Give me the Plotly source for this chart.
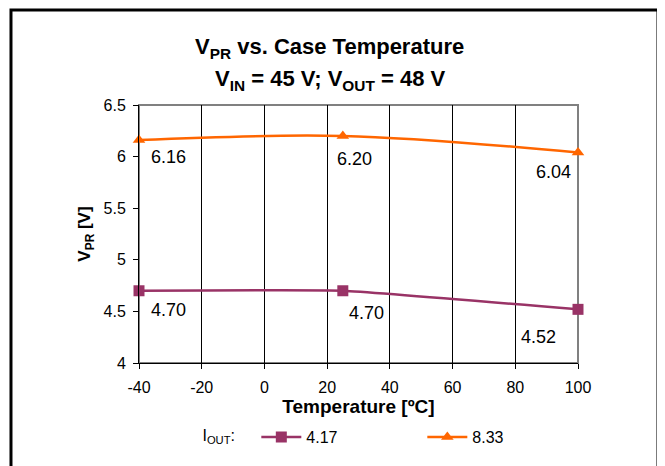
import plotly.graph_objects as go

temps = [-40, 25, 100]
vpr_417 = [4.70, 4.70, 4.52]
vpr_833 = [6.16, 6.20, 6.04]
series_names = ["4.17", "8.33"]
x_ticks = [-40, -20, 0, 20, 40, 60, 80, 100]
y_ticks = [4, 4.5, 5, 5.5, 6, 6.5]
y_tick_text = ["4", "4.5", "5", "5.5", "6", "6.5"]

FONT = "Arial, Liberation Sans, sans-serif"
PURPLE = "#993366"
ORANGE = "#FF6600"

fig = go.Figure()
fig.add_trace(go.Scatter(
    x=temps, y=vpr_417, name=series_names[0], mode="lines+markers",
    line=dict(color=PURPLE, width=2.5, shape="spline", smoothing=0.3),
    marker=dict(symbol="square", size=11, color=PURPLE), cliponaxis=False))
fig.add_trace(go.Scatter(
    x=temps, y=vpr_833, name=series_names[1], mode="lines+markers",
    line=dict(color=ORANGE, width=2.5, shape="spline", smoothing=1),
    marker=dict(symbol="triangle-up", size=11, color=ORANGE), cliponaxis=False))

# value labels (offsets in px from each point)
shifts_417 = [(29, -19), (24, -22), (-40, -28)]
shifts_833 = [(29, -17), (12, -23), (-25, -20)]
annotations = []
for ys, shifts in ((vpr_417, shifts_417), (vpr_833, shifts_833)):
    for xv, yv, (dx, dy) in zip(temps, ys, shifts):
        annotations.append(dict(x=xv, y=yv, xref="x", yref="y", text=f"{yv:.2f}",
                                showarrow=False, xshift=dx, yshift=dy,
                                xanchor="center", yanchor="middle",
                                font=dict(family=FONT, size=18, color="black")))

annotations.append(dict(x=0.435, y=1.222, xref="paper", yref="paper",
                        text="<b>V<sub>PR</sub> vs. Case Temperature</b>", showarrow=False,
                        xanchor="center", yanchor="middle",
                        font=dict(family=FONT, size=22, color="black")))
annotations.append(dict(x=0.435, y=1.097, xref="paper", yref="paper",
                        text="<b>V<sub>IN</sub> = 45 V; V<sub>OUT</sub> = 48 V</b>", showarrow=False,
                        xanchor="center", yanchor="middle",
                        font=dict(family=FONT, size=22, color="black")))

shapes = [
    dict(type="rect", xref="paper", yref="paper", x0=0, x1=1, y0=0, y1=1,
         line=dict(color="#808080", width=2), layer="below"),
    dict(type="rect", xref="paper", yref="paper", x0=-0.2916, x1=1.1822, y0=-0.43, y1=1.368,
         line=dict(color="black", width=3)),
]

fig.update_layout(
    width=657, height=458,
    margin=dict(l=131, r=87, t=97, b=103),
    paper_bgcolor="white", plot_bgcolor="white",
    font=dict(family=FONT, size=16, color="black"),
    annotations=annotations, shapes=shapes,
    showlegend=True,
    legend=dict(orientation="h", x=0.14, xanchor="left", y=-0.287, yanchor="middle",
                title=dict(text="I<sub>OUT</sub>:   ", font=dict(family=FONT, size=16)),
                font=dict(family=FONT, size=16), entrywidth=111, entrywidthmode="pixels",
                itemwidth=40, bgcolor="rgba(0,0,0,0)"),
    xaxis=dict(range=[-40, 100], tickvals=x_ticks, ticktext=[str(v) for v in x_ticks],
               showgrid=True, gridcolor="black", gridwidth=1,
               showline=True, linecolor="black", linewidth=1,
               ticks="outside", ticklen=5, tickcolor="black", zeroline=False,
               ticklabelstandoff=5,
               title=dict(text="<b>Temperature [ºC]</b>", font=dict(family=FONT, size=19), standoff=4),
               tickfont=dict(family=FONT, size=16)),
    yaxis=dict(range=[4, 6.5], tickvals=y_ticks, ticktext=y_tick_text,
               showgrid=False, showline=True, linecolor="black", linewidth=1,
               ticks="outside", ticklen=5, tickcolor="black", zeroline=False,
               ticklabelstandoff=4,
               title=dict(text="<b>V<sub>PR</sub> [V]</b>", font=dict(family=FONT, size=17), standoff=8),
               tickfont=dict(family=FONT, size=16)),
)

fig.write_html("out.html")
